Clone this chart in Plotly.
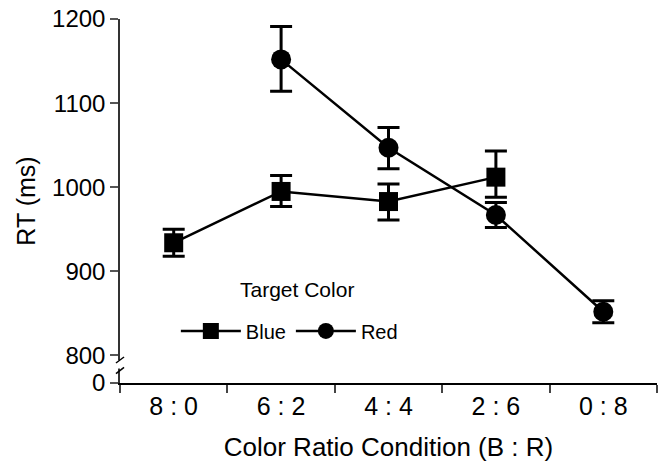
import plotly.graph_objects as go

categories = ["8 : 0", "6 : 2", "4 : 4", "2 : 6", "0 : 8"]

blue_x = ["8 : 0", "6 : 2", "4 : 4", "2 : 6"]
blue_rt = [934, 995, 983, 1012]
blue_err_plus = [16, 19, 21, 31]
blue_err_minus = [16, 18, 22, 24]

red_x = ["6 : 2", "4 : 4", "2 : 6", "0 : 8"]
red_rt = [1152, 1047, 967, 852]
red_err_plus = [39, 24, 15, 13]
red_err_minus = [38, 25, 15, 13]

# y axis with a break: "0" is drawn just below 800
zero_pos = 767.3
y_tickvals = [zero_pos, 800, 900, 1000, 1100, 1200]
y_ticktext = ["0", "800", "900", "1000", "1100", "1200"]

FONT = "Liberation Sans, Arial, Helvetica, sans-serif"

fig = go.Figure()

fig.add_trace(go.Scatter(
    x=blue_x, y=blue_rt, name="Blue", mode="lines+markers",
    line=dict(color="black", width=2.5),
    marker=dict(symbol="square", size=19, color="black"),
    error_y=dict(type="data", symmetric=False, array=blue_err_plus,
                 arrayminus=blue_err_minus, color="black", thickness=3, width=11),
    cliponaxis=False,
))
fig.add_trace(go.Scatter(
    x=red_x, y=red_rt, name="Red", mode="lines+markers",
    line=dict(color="black", width=2.5),
    marker=dict(symbol="circle", size=20, color="black"),
    error_y=dict(type="data", symmetric=False, array=red_err_plus,
                 arrayminus=red_err_minus, color="black", thickness=3, width=11),
    cliponaxis=False,
))

# axis break decoration
shapes = [
    dict(type="rect", xref="paper", yref="y", x0=-0.006, x1=0.006, y0=784.5, y1=794.5,
         fillcolor="white", line=dict(width=0), layer="above"),
    dict(type="line", xref="paper", yref="y", x0=-0.0075, x1=0.0075, y0=791.1, y1=798.2,
         line=dict(color="black", width=1.5), layer="above"),
    dict(type="line", xref="paper", yref="y", x0=-0.0075, x1=0.0075, y0=778.4, y1=785.9,
         line=dict(color="black", width=1.5), layer="above"),
]

fig.update_layout(
    width=660, height=465,
    margin=dict(l=120, r=3, t=19, b=82),
    paper_bgcolor="white", plot_bgcolor="white",
    font=dict(family=FONT, color="black"),
    showlegend=True,
    legend=dict(orientation="h", x=0.104, xanchor="left", y=0.143, yanchor="middle",
                font=dict(size=20, family=FONT, color="black"),
                bgcolor="rgba(0,0,0,0)", itemwidth=60, tracegroupgap=0),
    shapes=shapes,
    annotations=[dict(text="Target Color", xref="paper", yref="paper",
                      x=0.33, y=0.258, xanchor="center", yanchor="middle",
                      showarrow=False, font=dict(size=21, family=FONT, color="black"))],
)

fig.update_xaxes(
    type="category", categoryorder="array", categoryarray=categories,
    range=[-0.5, 4.5], tickson="boundaries",
    showline=True, linecolor="black", linewidth=1.5,
    ticks="outside", ticklen=8, tickcolor="#444", tickwidth=1.5,
    showgrid=False, zeroline=False,
    tickfont=dict(size=25, family=FONT, color="black"),
    title=dict(text="Color Ratio Condition (B : R)", font=dict(size=26, family=FONT, color="black"),
               standoff=19),
)

fig.update_yaxes(
    range=[zero_pos, 1200], tickvals=y_tickvals, ticktext=y_ticktext,
    showline=True, linecolor="#333", linewidth=1.5,
    ticks="outside", ticklen=8, tickcolor="#555", tickwidth=1.5,
    showgrid=False, zeroline=False,
    tickfont=dict(size=24, family=FONT, color="black"),
    title=dict(text="RT (ms)", font=dict(size=25, family=FONT, color="black"), standoff=9),
)

fig.write_html("out.html")
